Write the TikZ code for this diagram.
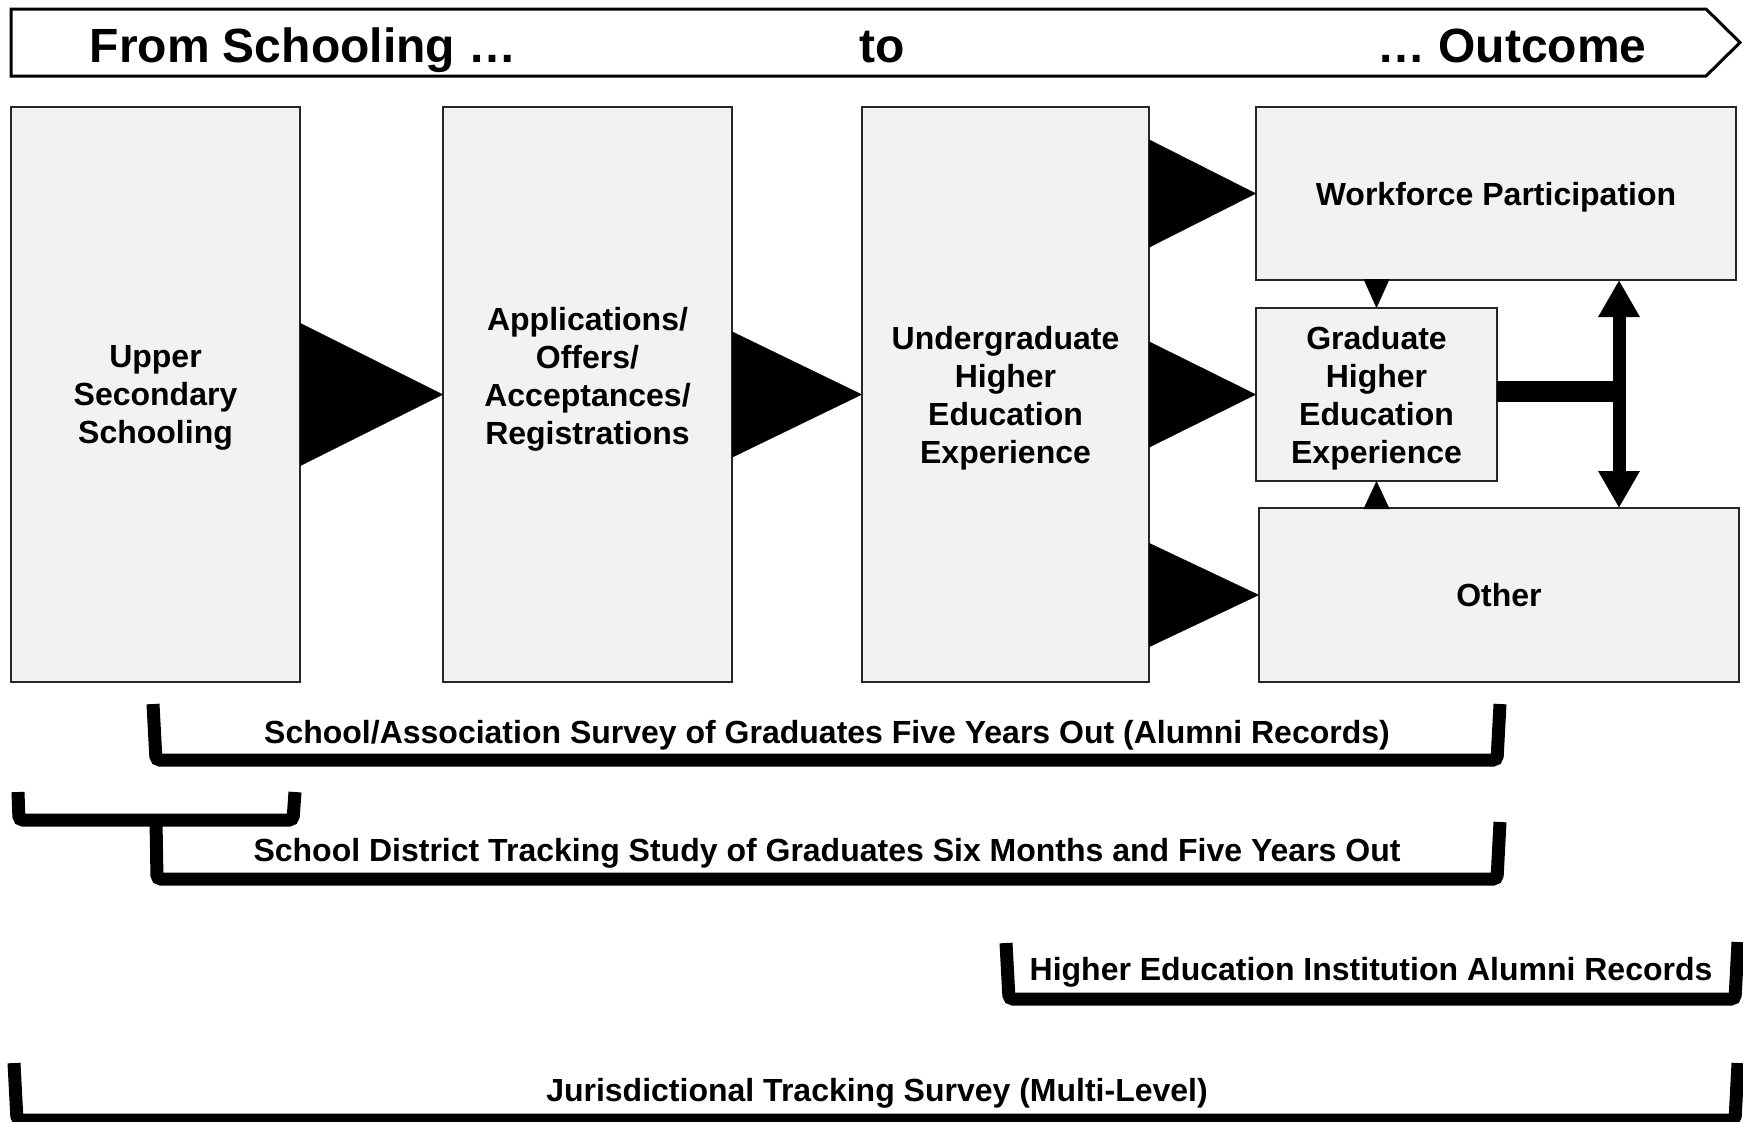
\documentclass[tikz,border=0pt]{standalone}
\usepackage{fontspec}
\setmainfont{Liberation Sans}
\usepackage{tikz}
\usetikzlibrary{positioning, calc, arrows.meta}
\tikzset{stage/.style={draw=black!85, line width=1.1pt, fill=black!5, align=center, inner sep=2pt, outer sep=0pt, text depth=0pt, font=\fontsize{16}{19}\selectfont\bfseries}}
\tikzset{column/.style={stage, minimum width=144.5pt, minimum height=287.5pt}}
\tikzset{outcome/.style={stage, minimum width=240pt, minimum height=86.5pt}}
\tikzset{flow/.style 2 args={-{Triangle[length=#1, width=#2]}, line width=0.1pt}}
\tikzset{survey/.style={line width=6.5pt, rounded corners=2pt}}
\tikzset{source/.style={anchor=base, font=\fontsize{16}{19}\selectfont\bfseries}}
\tikzset{headline/.style={anchor=base, font=\fontsize{24}{28}\selectfont\bfseries}}

\begin{document}
\begin{tikzpicture}[x=0.5pt, y=-0.5pt]
  \useasboundingbox (0,0) rectangle (1743,1121);

  \draw[line width=1.5pt] (11,9) -- (1706,9) -- (1740,42.5) -- (1706,76) -- (11,76) -- cycle;
  \node[headline] (from) at (303,62) {From Schooling …};
  \node[headline] (to) at (882,62) {to};
  \node[headline] (outcome) at (1512,62) {… Outcome};

  \node[column] (upper) at (155.5,394.5) {Upper\\Secondary\\Schooling};
  \node[column, right=71.5pt of upper] (apps) {Applications/\\Offers/\\Acceptances/\\Registrations\\[0pt]\mbox{}};
  \node[column, minimum width=143.5pt, right=65pt of apps] (ugrad) {Undergraduate\\Higher\\Education\\Experience};

  \node[outcome, anchor=north west] (work) at ($(ugrad.north east)+(107,0)$) {Workforce Participation};
  \node[stage, minimum width=120.5pt, minimum height=86.5pt, right=53.5pt of ugrad] (grad) {Graduate\\Higher\\Education\\Experience};
  \node[outcome, anchor=south west, minimum height=87pt] (other) at ($(ugrad.south east)+(110,0)$) {Other};

  \draw[flow={71.5pt}{71.5pt}] (upper) -- (apps);
  \draw[flow={65pt}{63pt}] (apps) -- (ugrad);
  \draw[flow={53.5pt}{54pt}] (ugrad.east |- work.west) -- (work.west);
  \draw[flow={53.5pt}{53pt}] (ugrad) -- (grad);
  \draw[flow={55pt}{52pt}] (ugrad.east |- other.west) -- (other.west);
  \draw[flow={14.5pt}{13pt}] (grad.north |- work.south) -- (grad.north);
  \draw[flow={14pt}{13pt}] (grad.south |- other.north) -- (grad.south);

  \coordinate (hub) at (1619,391);
  \draw[line width=10.5pt] (grad.east |- hub) -- (hub);
  \draw[line width=6.5pt, {Triangle[length=18.5pt, width=19.5pt]}-{Triangle[length=18.5pt, width=19.5pt]}] (hub |- work.south) -- (hub |- other.north);

  \draw[survey] (153,704) -- (156,760) -- (1497,760) -- (1500,704);
  \node[source] (alumni) at (827,743) {School/Association Survey of Graduates Five Years Out (Alumni Records)};

  \draw[survey] (18,792) -- (19,820) -- (293,820) -- (295,792);
  \draw[survey] (156,820) -- (157,879) -- (1497,879) -- (1500,822);
  \node[source] (district) at (827,861) {School District Tracking Study of Graduates Six Months and Five Years Out};

  \draw[survey] (1006,943) -- (1009,999) -- (1735,999) -- (1738,942);
  \node[source] (hei) at (1371,980) {Higher Education Institution Alumni Records};

  \draw[survey] (14,1063) -- (17,1120) -- (1735,1120) -- (1738,1063);
  \node[source] (juris) at (877,1101) {Jurisdictional Tracking Survey (Multi-Level)};
\end{tikzpicture}
\end{document}
